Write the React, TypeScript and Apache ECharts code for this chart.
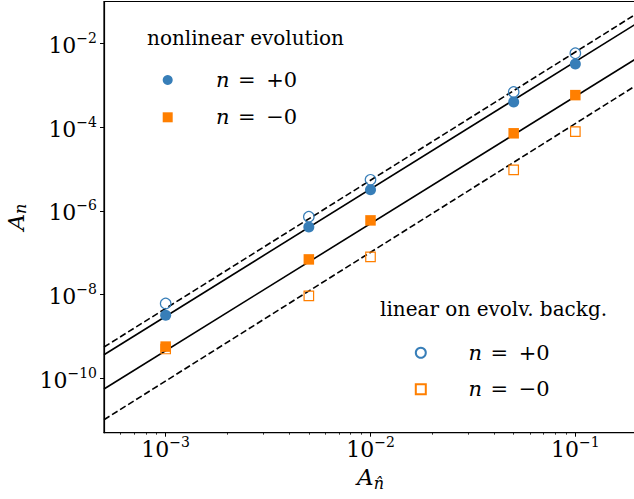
import React, { useEffect, useRef } from 'react';
import * as echarts from 'echarts';

// ---- data ----
const xValues = [1e-3, 5e-3, 1e-2, 5e-2, 1e-1];
const nonlinearPlus = [3.2e-9, 4.1e-7, 3.2e-6, 4.0e-4, 3.2e-3];
const nonlinearMinus = [5.7e-10, 6.9e-8, 5.9e-7, 7.1e-5, 5.8e-4];
const linearPlus = [6.1e-9, 7.2e-7, 5.5e-6, 6.9e-4, 5.8e-3];
const linearMinus = [5.0e-10, 9.3e-9, 7.9e-8, 9.5e-6, 7.8e-5];

const lineX = [5e-4, 0.2];
const solidUpper = [3.64e-10, 3.03e-2];
const solidLower = [5.52e-11, 4.43e-3];
const dashedUpper = [5.56e-10, 5.18e-2];
const dashedLower = [1.02e-11, 1.02e-3];

const xMajorTicks = [1e-3, 1e-2, 1e-1];
const xMinorTicks = [
  6e-4, 7e-4, 8e-4, 9e-4,
  2e-3, 3e-3, 4e-3, 5e-3, 6e-3, 7e-3, 8e-3, 9e-3,
  2e-2, 3e-2, 4e-2, 5e-2, 6e-2, 7e-2, 8e-2, 9e-2,
];
const yMajorTicks = [1e-10, 1e-8, 1e-6, 1e-4, 1e-2];

const legendTitles = ['nonlinear evolution', 'linear on evolv. backg.'];
const legendLabels: Record<string, string> = {
  'nl+0': '+0',
  'nl-0': '\u22120',
  'lin+0': '+0',
  'lin-0': '\u22120',
};

const BLUE = '#377eb8';
const ORANGE = '#ff7f00';
const FONT = 'DejaVu Serif';

const pairs = (xs: number[], ys: number[]) => xs.map((x, i) => [x, ys[i]]);

const powLabel = (v: number) => {
  const e = Math.round(Math.log10(v));
  return '{b|10}{s|' + (e < 0 ? '\u2212' + -e : String(e)) + '}';
};

const tickRich = {
  b: { fontSize: 22, fontFamily: FONT, color: '#000', padding: [4, 0, 0, 0] },
  s: { fontSize: 14, fontFamily: FONT, color: '#000', padding: [0, 0, 11, 0] },
};

const makeLegendRich = (lead: number) => ({
  i: { fontSize: 21, fontFamily: FONT, fontStyle: 'italic', color: '#000', lineHeight: 26, padding: [0, 0, 0, lead] },
  e: { fontSize: 21, fontFamily: FONT, color: '#000', lineHeight: 26, padding: [0, 10.7, 0, 8.4] },
  t: { fontSize: 21, fontFamily: FONT, color: '#000', lineHeight: 26 },
});

const legendFormatter = (name: string) => '{i|n}{e|=}{t|' + legendLabels[name] + '}';

export default function App() {
  const ref = useRef<HTMLDivElement>(null);
  useEffect(() => {
    if (!ref.current) return;
    const chart = echarts.init(ref.current, null, { renderer: 'svg' });
    const lineStyle = (dashed: boolean) => ({
      color: '#000',
      width: 1.6,
      type: dashed ? [6.5, 3] : 'solid',
    });
    chart.setOption({
      animation: false,
      backgroundColor: '#fff',
      textStyle: { fontFamily: FONT },
      grid: {
        left: 104,
        top: 1.5,
        right: -3,
        bottom: 66.3,
        containLabel: false,
        outerBoundsMode: 'none',
        show: true,
        borderColor: '#000',
        borderWidth: 1.2,
        backgroundColor: 'transparent',
      },
      xAxis: [
        {
          type: 'log',
          min: 5e-4,
          max: 0.2,
          position: 'bottom',
          axisLine: { show: true, lineStyle: { color: '#000', width: 1.2 } },
          axisTick: { show: true, length: 4, lineStyle: { color: '#000', width: 1 }, customValues: xMajorTicks },
          axisLabel: { customValues: xMajorTicks, margin: 2, formatter: powLabel, rich: tickRich, fontFamily: FONT },
          splitLine: { show: false },
          name: '{a|A}{s|n\u0302}',
          nameLocation: 'middle',
          nameGap: 15,
          nameTextStyle: {
            fontFamily: FONT,
            rich: {
              a: { fontSize: 23, fontFamily: FONT, fontStyle: 'italic', color: '#000' },
              s: { fontSize: 16, fontFamily: FONT, fontStyle: 'italic', color: '#000', padding: [12, 0, 0, 0] },
            },
          },
        },
        {
          type: 'log',
          min: 5e-4,
          max: 0.2,
          position: 'bottom',
          axisLine: { show: false },
          axisTick: { show: true, length: 2, lineStyle: { color: '#000', width: 0.8 }, customValues: xMinorTicks },
          axisLabel: { show: false },
          splitLine: { show: false },
        },
      ],
      yAxis: {
        type: 'log',
        min: 5e-12,
        max: 0.1,
        axisLine: { show: true, lineStyle: { color: '#000', width: 1.2 } },
        axisTick: { show: true, length: 4, lineStyle: { color: '#000', width: 1 }, customValues: yMajorTicks },
        axisLabel: { customValues: yMajorTicks, margin: 7, formatter: powLabel, rich: tickRich, fontFamily: FONT },
        splitLine: { show: false },
        name: '{a|A}{s|n}',
        nameLocation: 'middle',
        nameGap: 72,
        nameTextStyle: {
          fontFamily: FONT,
          rich: {
            a: { fontSize: 23, fontFamily: FONT, fontStyle: 'italic', color: '#000' },
            s: { fontSize: 16, fontFamily: FONT, fontStyle: 'italic', color: '#000', padding: [10, 0, 0, 0] },
          },
        },
      },
      legend: [
        {
          data: ['nl+0', 'nl-0'],
          orient: 'vertical',
          left: 162.7,
          top: 67,
          padding: 0,
          itemWidth: 10,
          itemHeight: 10,
          itemGap: 11.3,
          selectedMode: false,
          formatter: legendFormatter,
          textStyle: { color: '#000', fontSize: 21, fontFamily: FONT, lineHeight: 26, rich: makeLegendRich(38.3) },
        },
        {
          data: ['lin+0', 'lin-0'],
          orient: 'vertical',
          left: 413.3,
          top: 339.7,
          padding: 0,
          itemWidth: 10,
          itemHeight: 10,
          itemGap: 10.6,
          selectedMode: false,
          formatter: legendFormatter,
          textStyle: { color: '#000', fontSize: 21, fontFamily: FONT, lineHeight: 26, rich: makeLegendRich(37.7) },
        },
      ],
      graphic: [
        {
          type: 'text',
          x: 147,
          y: 37.5,
          style: { text: legendTitles[0], fontSize: 20, fontFamily: FONT, fill: '#000', align: 'left', verticalAlign: 'middle' },
        },
        {
          type: 'text',
          x: 380,
          y: 309,
          style: { text: legendTitles[1], fontSize: 20, fontFamily: FONT, fill: '#000', align: 'left', verticalAlign: 'middle' },
        },
      ],
      series: [
        { name: 'solidUpper', type: 'line', data: pairs(lineX, solidUpper), symbol: 'none', lineStyle: lineStyle(false), z: 2, silent: true },
        { name: 'solidLower', type: 'line', data: pairs(lineX, solidLower), symbol: 'none', lineStyle: lineStyle(false), z: 2, silent: true },
        { name: 'dashedUpper', type: 'line', data: pairs(lineX, dashedUpper), symbol: 'none', lineStyle: lineStyle(true), z: 2, silent: true },
        { name: 'dashedLower', type: 'line', data: pairs(lineX, dashedLower), symbol: 'none', lineStyle: lineStyle(true), z: 2, silent: true },
        {
          name: 'nl+0',
          type: 'scatter',
          data: pairs(xValues, nonlinearPlus),
          symbol: 'circle',
          symbolSize: 11,
          itemStyle: { color: BLUE, opacity: 1 },
          z: 3,
        },
        {
          name: 'nl-0',
          type: 'scatter',
          data: pairs(xValues, nonlinearMinus),
          symbol: 'rect',
          symbolSize: 10.5,
          itemStyle: { color: ORANGE, opacity: 1 },
          z: 3,
        },
        {
          name: 'lin+0',
          type: 'scatter',
          data: pairs(xValues, linearPlus),
          symbol: 'circle',
          symbolSize: 10.5,
          itemStyle: { color: 'none', borderColor: BLUE, borderWidth: 1.2, opacity: 1 },
          z: 4,
        },
        {
          name: 'lin-0',
          type: 'scatter',
          data: pairs(xValues, linearMinus),
          symbol: 'rect',
          symbolSize: 9.5,
          itemStyle: { color: 'none', borderColor: ORANGE, borderWidth: 1.2, opacity: 1 },
          z: 4,
        },
      ],
    });
    return () => chart.dispose();
  }, []);
  return (
    <div
      ref={ref}
      style={{ position: 'absolute', left: 0, top: 0, width: 634, height: 499 }}
    />
  );
}
